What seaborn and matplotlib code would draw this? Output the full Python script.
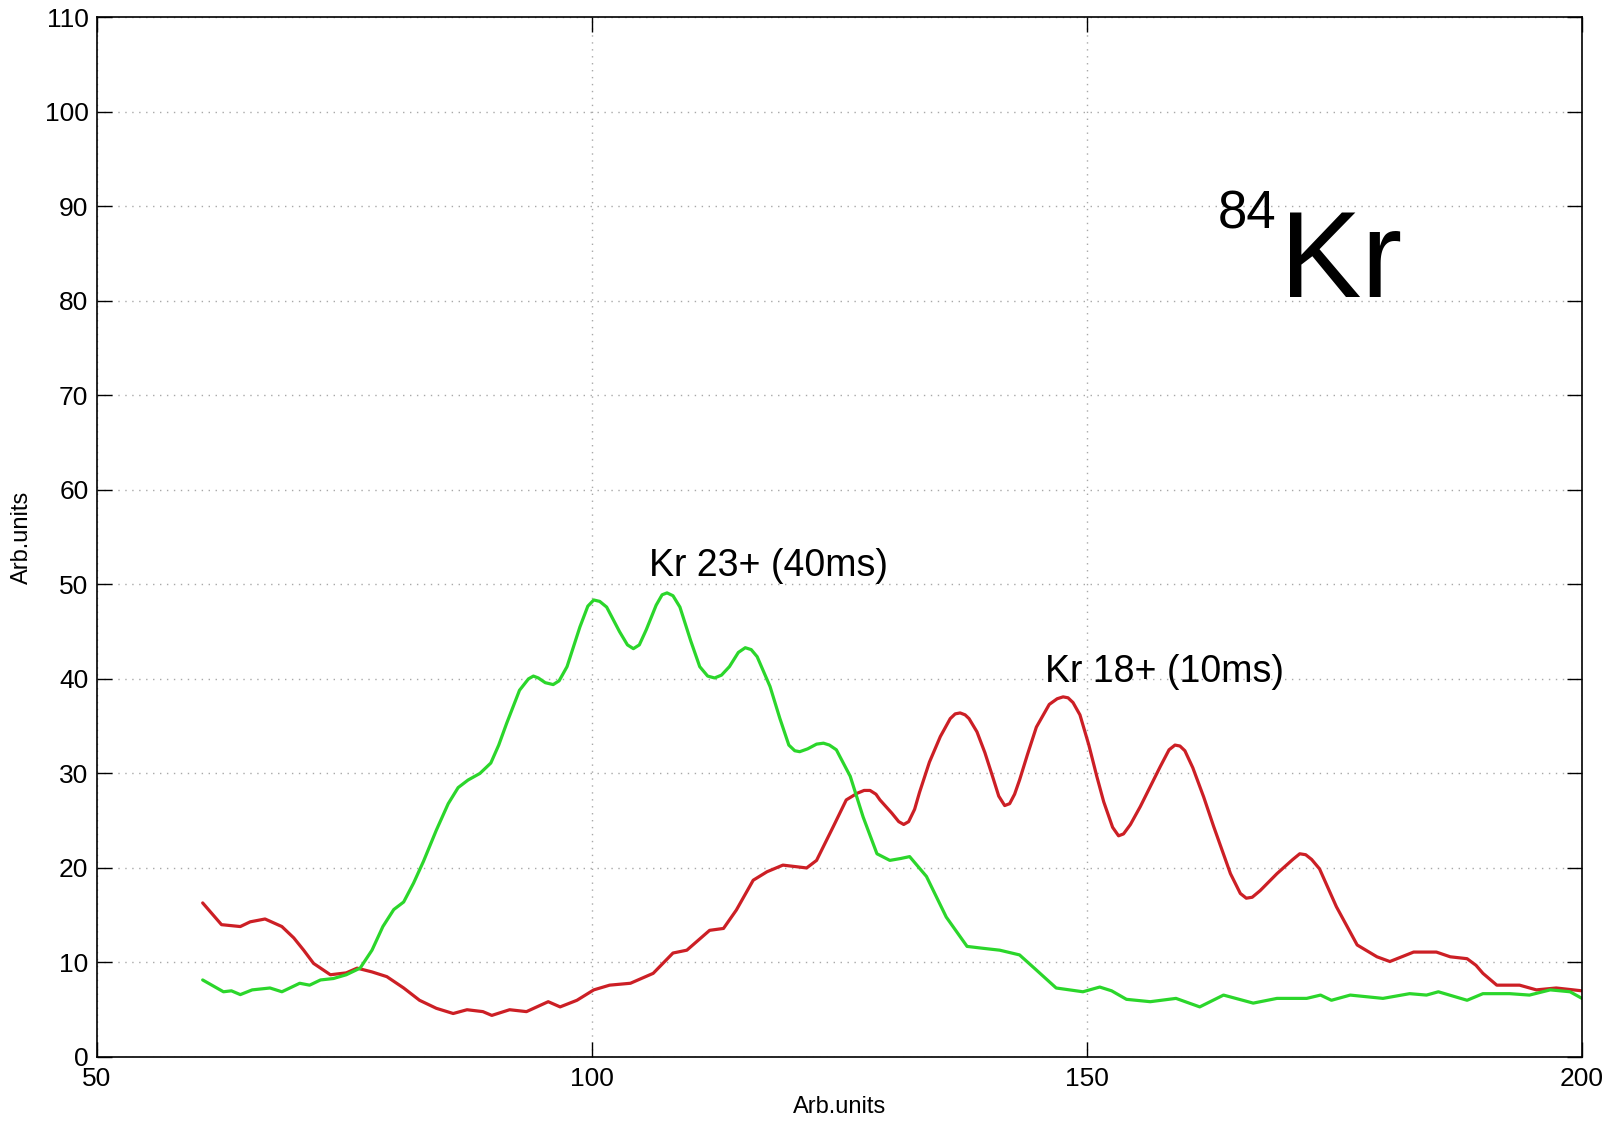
import numpy as np
import pandas as pd
import matplotlib
matplotlib.use("Agg")
import matplotlib.pyplot as plt
import seaborn as sns

# ---- data ----
red_x = [60.7, 62.6, 64.5, 65.5, 67.0, 68.7, 69.9, 70.9, 71.9, 73.6, 75.2, 76.3, 77.8, 79.3,
         81.0, 82.6, 84.3, 86.0, 87.4, 89.0, 89.9, 91.7, 93.4, 95.6, 96.8, 98.5, 100.2, 101.8,
         103.9, 106.2, 108.2, 109.6, 111.9, 113.3, 114.6, 116.3, 117.7, 119.3, 121.7, 122.7,
         124.4, 125.7, 126.8, 127.5, 128.1, 128.7, 129.1, 130.3, 131.0, 131.5, 132.0, 132.6,
         133.1, 134.1, 135.2, 136.2, 136.7, 137.2, 137.7, 138.1, 138.9, 139.7, 140.5, 141.1,
         141.7, 142.2, 142.7, 143.2, 144.0, 144.9, 146.2, 147.0, 147.6, 148.1, 148.6, 149.3,
         150.2, 151.0, 151.7, 152.6, 153.2, 153.7, 154.4, 155.4, 157.4, 158.3, 158.9, 159.4,
         159.9, 160.7, 161.8, 162.8, 164.5, 165.5, 166.1, 166.7, 167.5, 169.2, 170.8, 171.5,
         172.1, 172.7, 173.5, 175.2, 177.3, 179.3, 180.6, 181.8, 183.0, 185.3, 186.7, 188.4,
         189.3, 190.0, 191.4, 193.7, 195.4, 197.4, 200.0]
red_y = [16.3, 14.0, 13.8, 14.3, 14.6, 13.8, 12.6, 11.3, 9.9, 8.7, 8.9, 9.4, 9.0, 8.5,
         7.3, 6.0, 5.15, 4.6, 5.0, 4.8, 4.4, 5.0, 4.8, 5.85, 5.3, 6.0, 7.1, 7.6,
         7.8, 8.85, 11.0, 11.3, 13.4, 13.6, 15.55, 18.7, 19.6, 20.3, 20.0, 20.8,
         24.4, 27.2, 27.9, 28.2, 28.2, 27.8, 27.2, 25.8, 24.9, 24.6, 24.9, 26.2,
         28.0, 31.2, 33.9, 35.8, 36.3, 36.4, 36.2, 35.8, 34.4, 32.2, 29.6, 27.6,
         26.6, 26.8, 27.8, 29.3, 32.0, 34.9, 37.3, 37.9, 38.1, 38.0, 37.5, 36.2,
         33.0, 29.7, 27.0, 24.3, 23.4, 23.6, 24.6, 26.5, 30.7, 32.5, 33.0, 32.9,
         32.4, 30.6, 27.5, 24.4, 19.4, 17.3, 16.8, 16.9, 17.6, 19.4, 20.9, 21.5,
         21.4, 20.9, 19.9, 15.9, 11.85, 10.6, 10.1, 10.6, 11.1, 11.1, 10.6, 10.4,
         9.7, 8.85, 7.6, 7.6, 7.1, 7.3, 7.0]

green_x = [60.7, 62.8, 63.6, 64.5, 65.7, 67.5, 68.7, 70.5, 71.5, 72.6, 73.9, 75.2, 76.6,
           77.8, 78.9, 80.0, 81.0, 82.0, 83.0, 84.3, 85.5, 86.5, 87.5, 88.7, 89.8, 90.6,
           91.4, 92.7, 93.6, 94.1, 94.6, 95.3, 96.1, 96.7, 97.5, 98.8, 99.6, 100.2, 100.8,
           101.5, 102.8, 103.6, 104.2, 104.8, 105.5, 106.5, 107.1, 107.6, 108.2, 108.9,
           110.0, 110.9, 111.7, 112.4, 113.1, 113.9, 114.8, 115.5, 116.1, 116.7, 118.0,
           119.0, 119.9, 120.5, 121.0, 121.8, 122.7, 123.4, 124.0, 124.7, 126.1, 127.4,
           128.8, 130.1, 131.2, 132.1, 133.8, 135.8, 137.9, 139.5, 141.2, 143.2, 144.9,
           146.9, 149.6, 151.3, 152.5, 154.0, 156.4, 159.0, 161.4, 163.8, 166.8, 169.2,
           172.2, 173.6, 174.7, 176.6, 179.9, 182.6, 184.3, 185.5, 188.4, 190.0, 192.7,
           194.7, 196.8, 198.8, 200.0]
green_y = [8.15, 6.9, 7.0, 6.6, 7.1, 7.3, 6.9, 7.8, 7.6, 8.15, 8.3, 8.7, 9.4,
           11.3, 13.8, 15.6, 16.4, 18.4, 20.7, 24.0, 26.8, 28.5, 29.3, 30.0, 31.1, 33.0,
           35.3, 38.8, 40.0, 40.3, 40.1, 39.6, 39.4, 39.8, 41.3, 45.5, 47.7, 48.35, 48.2,
           47.6, 45.0, 43.6, 43.2, 43.6, 45.2, 47.8, 48.9, 49.1, 48.8, 47.6,
           44.0, 41.3, 40.3, 40.1, 40.4, 41.3, 42.8, 43.3, 43.1, 42.35, 39.2,
           35.8, 33.0, 32.4, 32.3, 32.6, 33.1, 33.2, 33.0, 32.5, 29.7, 25.4,
           21.5, 20.8, 21.0, 21.2, 19.1, 14.8, 11.7, 11.5, 11.3, 10.8, 9.2,
           7.3, 6.9, 7.4, 7.0, 6.1, 5.85, 6.2, 5.3, 6.55, 5.7, 6.2,
           6.2, 6.55, 6.0, 6.55, 6.2, 6.7, 6.55, 6.9, 6.0, 6.7, 6.7,
           6.55, 7.1, 6.9, 6.2]

x_ticks = [50, 100, 150, 200]
y_ticks = list(range(0, 111, 10))
label_green = "Kr 23+ (40ms)"
label_red = "Kr 18+ (10ms)"
axis_label = "Arb.units"

# ---- figure ----
sns.set_theme(style="white")
plt.rcParams['font.family'] = ['Liberation Sans', 'DejaVu Sans']
plt.rcParams['text.color'] = 'black'
plt.rcParams['axes.labelcolor'] = 'black'
plt.rcParams['xtick.color'] = 'black'
plt.rcParams['ytick.color'] = 'black'

fig = plt.figure(figsize=(16.23, 11.21), dpi=100)
ax = fig.add_axes([0.0596, 0.0571, 0.9151, 0.9275])

df_red = pd.DataFrame({"x": red_x, "y": red_y})
df_green = pd.DataFrame({"x": green_x, "y": green_y})
sns.lineplot(data=df_red, x="x", y="y", ax=ax, color="#cc1f25", linewidth=2.3,
             sort=False, estimator=None)
sns.lineplot(data=df_green, x="x", y="y", ax=ax, color="#2bd62b", linewidth=2.3,
             sort=False, estimator=None)

ax.set_xlim(50, 200)
ax.set_ylim(0, 110)
ax.set_xticks(x_ticks)
ax.set_yticks(y_ticks)
ax.grid(True, linestyle=(0, (1, 4)), color="#a8a8a8", linewidth=1.0)
for s in ax.spines.values():
    s.set_color("black")
    s.set_linewidth(1.2)
ax.tick_params(axis="both", direction="in", length=11, width=1.0, colors="black",
               labelsize=19, top=True, right=True, bottom=True, left=True)
ax.tick_params(axis="y", pad=6)
ax.tick_params(axis="x", pad=7)

ax.set_xlabel(axis_label, fontsize=17, labelpad=4, color="black")
ax.set_ylabel(axis_label, fontsize=17, labelpad=8, color="black")

ax.text(117.8, 51.9, label_green, fontsize=27, ha="center", va="center", color="black")
ax.text(157.8, 40.7, label_red, fontsize=27, ha="center", va="center", color="black")
ax.text(163.2, 87.7, "84", fontsize=38, ha="left", va="baseline", color="black")
ax.text(169.5, 80.4, "Kr", fontsize=88, ha="left", va="baseline", color="black")

fig.savefig("out.png", dpi=100)
